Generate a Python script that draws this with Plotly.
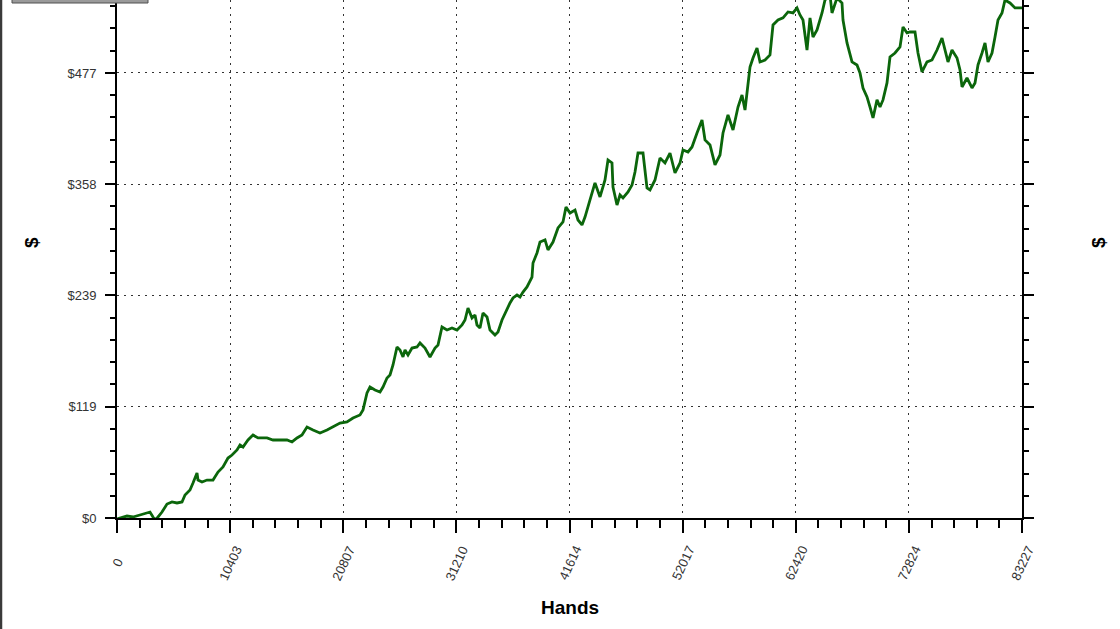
import plotly.graph_objects as go

# ---- data ----
hands = [0, 276, 920, 1471, 2115, 2759, 3035, 3311, 3495, 3771, 4138, 4598, 5058, 5518, 5978,
         6254, 6713, 6989, 7357, 7449, 7817, 8277, 8829, 9288, 9748, 10208, 10576, 11036, 11312,
         11587, 12047, 12507, 12967, 13795, 14346, 14990, 15634, 16094, 16554, 17013, 17473,
         18025, 18669, 19312, 19864, 20508, 21152, 21704, 22347, 22623, 22991, 23267, 23727,
         24187, 24462, 24830, 25106, 25382, 25750, 26026, 26302, 26486, 26762, 27129, 27589,
         27865, 28325, 28785, 29245, 29520, 29888, 30348, 30808, 31268, 31728, 32003, 32279,
         32647, 32923, 33107, 33383, 33659, 34027, 34303, 34762, 35038, 35406, 35682, 36142,
         36418, 36786, 37061, 37337, 37705, 38165, 38257, 38625, 38901, 39361, 39636, 40096,
         40556, 41016, 41292, 41660, 42120, 42395, 42763, 43039, 43499, 43959, 44419, 44878,
         45154, 45522, 45614, 45982, 46258, 46534, 46994, 47361, 47637, 47913, 48373, 48741,
         49017, 49477, 49936, 50396, 50856, 51316, 51776, 52052, 52511, 52879, 53339, 53799,
         54075, 54535, 54811, 54994, 55454, 55730, 56190, 56650, 57110, 57478, 57753, 57937,
         58213, 58489, 58857, 59133, 59593, 60052, 60328, 60788, 61248, 61708, 62168, 62536,
         62811, 63087, 63455, 63731, 64007, 64375, 64835, 65110, 65570, 65754, 66214, 66674,
         66766, 67134, 67594, 68053, 68329, 68605, 68973, 69249, 69525, 69893, 70169, 70444,
         70812, 71088, 71548, 72008, 72284, 72652, 72927, 73387, 73663, 74031, 74491, 74951,
         75410, 75870, 76146, 76422, 76790, 77250, 77526, 77710, 78169, 78629, 78905, 79181,
         79549, 79825, 80101, 80469, 80744, 81020, 81388, 81664, 82124, 82584, 83227]

dollars = [-1.1, 0, 2.1, 1.1, 3.2, 5.4, 6.4, 1.1, -2.1, 1.1, 6.4, 15.0, 17.2, 16.1, 17.2,
           24.7, 30.0, 37.5, 48.2, 40.7, 38.6, 40.7, 40.7, 49.3, 54.7, 64.3, 67.5, 72.9, 78.2,
           76.1, 83.6, 89.0, 85.8, 85.8, 83.6, 83.6, 83.6, 81.5, 85.8, 89.0, 97.5,
           94.3, 91.1, 94.3, 97.5, 101.8, 102.9, 107.2, 110.4, 115.8, 134.0, 140.4, 137.2,
           135.1, 140.4, 150.1, 153.3, 164.0, 183.3, 180.1, 172.6, 180.1, 174.7, 182.2, 183.3,
           187.6, 182.2, 172.6, 182.2, 185.4, 204.7, 201.5, 203.7, 201.5, 206.9, 212.2, 225.1,
           214.4, 217.6, 206.9, 203.7, 219.7, 215.5, 201.5, 196.2, 199.4, 212.2, 219.7, 230.5,
           235.8, 239.0, 236.9, 242.2, 247.6, 258.3, 273.3, 284.1, 295.8, 298.0, 287.3, 295.8,
           310.9, 317.3, 333.4, 326.9, 330.1, 319.4, 314.1, 322.6, 340.9, 359.1, 344.1, 362.3,
           383.7, 380.5, 354.8, 335.5, 346.2, 343.0, 349.4, 356.9, 370.9, 391.2, 391.2, 353.7,
           351.6, 362.3, 385.9, 380.5, 391.2, 369.8, 380.5, 394.5, 392.3, 397.7, 412.7, 426.6,
           405.2, 399.8, 387.0, 378.4, 389.1, 412.7, 432.0, 415.9, 440.5, 453.4, 437.3, 458.8,
           483.4, 493.1, 503.8, 488.8, 490.9, 496.3, 528.4, 533.8, 536.0, 542.4, 541.3, 546.7,
           539.2, 533.8, 501.6, 536.0, 515.6, 523.1, 541.3, 555.2, 560.6, 541.3, 557.4, 552.0,
           533.8, 509.2, 488.8, 485.6, 477.0, 460.9, 451.3, 440.5, 428.8, 448.1, 440.5, 448.1,
           466.3, 494.1, 498.4, 504.9, 526.3, 519.9, 520.9, 520.9, 498.4, 478.1, 488.8, 490.9,
           501.6, 514.5, 501.6, 488.8, 501.6, 493.1, 480.2, 462.0, 471.6, 460.9, 466.3, 485.6,
           498.4, 509.2, 488.8, 498.4, 515.6, 533.8, 541.3, 555.2, 552.0, 546.7, 546.7]

x_tick_vals = [0, 10403, 20807, 31210, 41614, 52017, 62420, 72824, 83227]
x_tick_labels = ["0", "10403", "20807", "31210", "41614", "52017", "62420", "72824", "83227"]
y_tick_vals = [0, 119.25, 238.5, 357.75, 477]
y_tick_labels = ["$0", "$119", "$239", "$358", "$477"]
x_title = "Hands"
y_title = "$"

# ---- figure geometry ----
W, H = 1120, 629
L, R, T, B = 117, 98, 0, 111
PW, PH = W - L - R, H - T - B
x_max = 83227
y_top = 555.2
x_minor = 83227 / 40
y_minor = 477 / 20


def px_x(p):
    return (p - L) / PW


def px_y(p):
    return (H - B - p) / PH


tick_font = dict(family="Liberation Sans, Arial, sans-serif", size=13, color="#333333")
grid_dash = "2px,5px"

fig = go.Figure()
fig.add_trace(go.Scatter(x=hands, y=dollars, mode="lines",
                         line=dict(color="#0b660b", width=2.8),
                         showlegend=False, hoverinfo="skip"))

common_x = dict(range=[0, x_max], tickmode="array", tickvals=x_tick_vals, zeroline=False,
                tickcolor="black", showticklabels=False, fixedrange=True)
common_y = dict(range=[0, y_top], tickmode="array", tickvals=y_tick_vals, zeroline=False,
                tickcolor="black", fixedrange=True)

fig.update_layout(
    width=W, height=H,
    margin=dict(l=L, r=R, t=T, b=B, pad=0),
    paper_bgcolor="white", plot_bgcolor="white",
    showlegend=False,
    xaxis=dict(**common_x, anchor="y", side="bottom",
               showline=True, linecolor="black", linewidth=2,
               ticks="outside", ticklen=13, tickwidth=2,
               showgrid=True, gridcolor="#333333", gridwidth=1.3, griddash=grid_dash,
               minor=dict(tickmode="linear", tick0=0, dtick=x_minor, ticks="outside",
                          ticklen=8, tickwidth=1.5, tickcolor="black", showgrid=False)),
    xaxis2=dict(**common_x, anchor="y", side="bottom", overlaying="x",
                showline=False, ticks="inside", ticklen=5, tickwidth=2, showgrid=False,
                minor=dict(tickmode="linear", tick0=0, dtick=x_minor, ticks="inside",
                           ticklen=2, tickwidth=1.5, tickcolor="black", showgrid=False)),
    yaxis=dict(**common_y, anchor="x", side="left", ticktext=y_tick_labels,
               showline=True, linecolor="black", linewidth=2, mirror="ticks",
               ticks="outside", ticklen=10, tickwidth=2,
               tickfont=tick_font, ticklabelstandoff=6,
               showgrid=True, gridcolor="#333333", gridwidth=1.3, griddash=grid_dash,
               minor=dict(tickmode="linear", tick0=0, dtick=y_minor, ticks="outside",
                          ticklen=5, tickwidth=1.5, tickcolor="black", showgrid=False)),
    yaxis2=dict(**common_y, anchor="x", side="left", overlaying="y", mirror="ticks",
                showline=False, ticks="inside", ticklen=10, tickwidth=2,
                showticklabels=False, showgrid=False,
                minor=dict(tickmode="linear", tick0=0, dtick=y_minor, ticks="inside",
                           ticklen=6, tickwidth=1.5, tickcolor="black", showgrid=False)),
    yaxis3=dict(**common_y, anchor="x", side="right", overlaying="y", ticktext=y_tick_labels,
                showline=False, ticks="", showticklabels=True, tickfont=tick_font,
                ticklabelstandoff=18, showgrid=False),
)

annotations = []
for v, t in zip(x_tick_vals, x_tick_labels):
    annotations.append(dict(x=v, xref="x", y=px_y(563), yref="paper", text=t,
                            showarrow=False, textangle=-65, xanchor="center",
                            yanchor="middle", font=tick_font))
title_font = dict(family="Liberation Sans, Arial, sans-serif", size=19, color="black")
annotations.append(dict(x=0.5, xref="paper", y=px_y(607), yref="paper",
                        text="<b>%s</b>" % x_title, showarrow=False,
                        xanchor="center", yanchor="middle", font=title_font))
for xp in (32, 1099):
    annotations.append(dict(x=px_x(xp), xref="paper", y=px_y(243), yref="paper",
                            text="<b>%s</b>" % y_title, showarrow=False, textangle=-90,
                            xanchor="center", yanchor="middle", font=title_font))
fig.update_layout(annotations=annotations)

fig.update_layout(shapes=[
    dict(type="line", xref="paper", yref="paper", x0=px_x(1), x1=px_x(1),
         y0=px_y(H + 5), y1=px_y(-5), line=dict(color="#3a3a3a", width=2.5)),
    dict(type="rect", xref="paper", yref="paper", x0=px_x(12), x1=px_x(148),
         y0=px_y(3), y1=px_y(-6), fillcolor="#9a9a9a", line=dict(color="#505050", width=1)),
])

fig.write_html("out.html", config={"displayModeBar": False},
               post_script="document.body.style.margin='0';")
